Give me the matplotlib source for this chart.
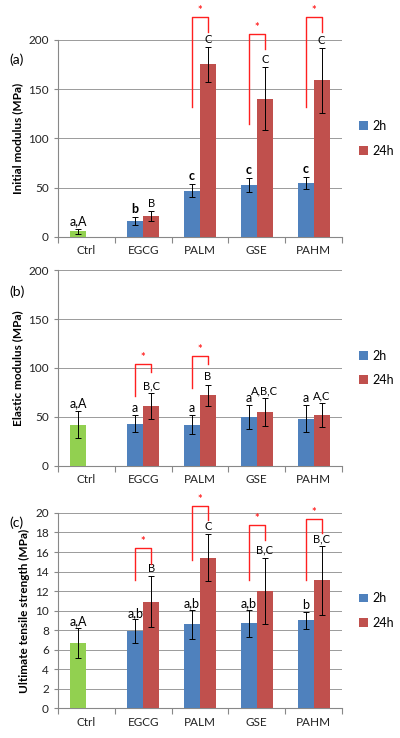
import matplotlib
matplotlib.use("Agg")
import matplotlib.pyplot as plt
import numpy as np

plt.rcParams["font.family"] = ["Lato", "DejaVu Sans"]

GROUPS = ["Ctrl", "EGCG", "PALM", "GSE", "PAHM"]

# (a) initial modulus
ctrl_a, ctrl_a_err = 5.5, 3
a_2h = [16, 47, 53, 55]
a_2h_err = [4, 7, 7, 6]
a_24h = [21, 175, 140, 159]
a_24h_err = [5, 18, 32, 33]
a_lab_2h = ["b", "c", "c", "c"]
a_lab_24h = ["B", "C", "C", "C"]
# brackets: group, left leg bottom, top, right leg bottom
a_brackets = [("PALM", 132, 223, 208), ("GSE", 115, 206, 191), ("PAHM", 132, 223, 208)]

# (b) elastic modulus
ctrl_b, ctrl_b_err = 42, 14
b_2h = [43, 42, 50, 48]
b_2h_err = [9, 10, 12, 14]
b_24h = [61, 72, 55, 52]
b_24h_err = [13, 11, 14, 12]
b_lab_2h = ["a", "a", "a", "a"]
b_lab_24h = ["B,C", "B", "A,B,C", "A,C"]
b_brackets = [("EGCG", 71, 104, 96), ("PALM", 79, 112, 104)]

# (c) ultimate tensile strength
ctrl_c, ctrl_c_err = 6.7, 1.5
c_2h = [7.9, 8.6, 8.7, 9.0]
c_2h_err = [1.2, 1.5, 1.4, 0.9]
c_24h = [10.9, 15.4, 12.0, 13.1]
c_24h_err = [2.6, 2.4, 3.4, 3.5]
c_lab_2h = ["a,b", "a,b", "a,b", "b"]
c_lab_24h = ["B", "C", "B,C", "B,C"]
c_brackets = [("EGCG", 13.1, 16.4, 14.8), ("PALM", 15.2, 20.7, 19.3),
              ("GSE", 13.1, 18.8, 17.2), ("PAHM", 13.1, 19.4, 17.9)]

BLUE = "#4F81BD"
RED = "#C0504D"
GREEN = "#92D050"
W = 0.28
OFF = 0.14


def panel(ax, tag, tag_y, ylabel, ymax, ystep, ctrl, ctrl_err, v2, e2, v24, e24,
          lab2, lab24, brackets, bold2=False):
    x = np.arange(1, len(GROUPS))
    ekw = dict(elinewidth=0.7, capsize=2.2, capthick=0.7, ecolor="black")
    ax.bar(-OFF, ctrl, W, color=GREEN, yerr=ctrl_err, error_kw=ekw, zorder=3)
    ax.bar(x - OFF, v2, W, color=BLUE, yerr=e2, error_kw=ekw, zorder=3, label="2h")
    ax.bar(x + OFF, v24, W, color=RED, yerr=e24, error_kw=ekw, zorder=3, label="24h")

    ax.annotate("a,A", (-OFF, ctrl + ctrl_err), xytext=(0, 1), textcoords="offset points",
                ha="center", va="bottom", fontsize=9)
    for i in range(len(x)):
        ax.annotate(lab2[i], (x[i] - OFF, v2[i] + e2[i]), xytext=(0, 1.5 if bold2 else 0.5),
                    textcoords="offset points", ha="center", va="bottom", fontsize=9,
                    fontweight="bold" if bold2 else "normal")
        ax.annotate(lab24[i], (x[i] + OFF, v24[i] + e24[i]), xytext=(0, 1.5), textcoords="offset points",
                    ha="center", va="bottom", fontsize=8)

    for g, lo, top, rlo in brackets:
        i = GROUPS.index(g)
        ax.plot([i - OFF, i - OFF, i + OFF, i + OFF], [lo, top, top, rlo],
                color="#FF2020", lw=1.0, clip_on=False, zorder=4)
        ax.text(i, top + ymax * 0.005, "*", color="#FF2020", ha="center", va="bottom",
                fontsize=8, fontweight="bold")

    ax.set_xlim(-0.5, len(GROUPS) - 0.5)
    ax.set_ylim(0, ymax)
    ax.set_yticks(np.arange(0, ymax + ystep / 2, ystep))
    ax.set_xticks(np.arange(len(GROUPS)))
    ax.set_xticklabels(GROUPS)
    ax.set_xticks(np.arange(-0.5, len(GROUPS)), minor=True)
    ax.tick_params(axis="x", which="major", length=0, labelsize=8.5, pad=6, colors="#222222")
    ax.tick_params(axis="x", which="minor", length=4, color="#888888", width=0.8)
    ax.tick_params(axis="y", length=3, color="#888888", labelsize=8.5, colors="#222222")
    ax.grid(axis="y", color="#9a9a9a", lw=0.7, zorder=0)
    for s in ["top", "right"]:
        ax.spines[s].set_visible(False)
    for s in ["left", "bottom"]:
        ax.spines[s].set_color("#888888")
        ax.spines[s].set_linewidth(0.8)
    ax.set_ylabel(ylabel, fontsize=8.5, fontweight="bold", labelpad=4)
    ax.text(-0.17, tag_y, tag, transform=ax.transAxes, fontsize=10, ha="left", va="center")
    ax.legend(loc="center left", bbox_to_anchor=(1.02, 0.5), frameon=False, fontsize=9,
              handlelength=0.7, handleheight=0.7, handletextpad=0.4, labelspacing=1.0)


fig = plt.figure(figsize=(4.0, 7.38), dpi=100)
ax_a = fig.add_axes([0.145, 0.679, 0.71, 0.267])
ax_b = fig.add_axes([0.145, 0.369, 0.71, 0.265])
ax_c = fig.add_axes([0.145, 0.040, 0.71, 0.265])

panel(ax_a, "(a)", 0.90, "Initial modulus (MPa)", 200, 50, ctrl_a, ctrl_a_err,
      a_2h, a_2h_err, a_24h, a_24h_err, a_lab_2h, a_lab_24h, a_brackets, bold2=True)
panel(ax_b, "(b)", 0.89, "Elastic modulus (MPa)", 200, 50, ctrl_b, ctrl_b_err,
      b_2h, b_2h_err, b_24h, b_24h_err, b_lab_2h, b_lab_24h, b_brackets)
panel(ax_c, "(c)", 0.95, "Ultimate tensile strength (MPa)", 20, 2, ctrl_c, ctrl_c_err,
      c_2h, c_2h_err, c_24h, c_24h_err, c_lab_2h, c_lab_24h, c_brackets)

fig.savefig("out.png", dpi=100)
